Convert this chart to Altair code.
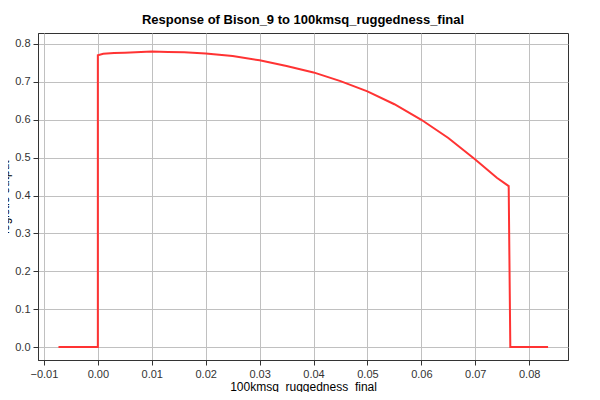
import altair as alt
import pandas as pd

xs = [-0.0073, 0.0, 0.0, 0.001, 0.003, 0.005, 0.008, 0.01, 0.013, 0.016, 0.02, 0.025,
      0.03, 0.035, 0.04, 0.045, 0.05, 0.055, 0.06, 0.065, 0.07, 0.074, 0.0762, 0.0765, 0.0835]
ys = [0.0, 0.0, 0.770, 0.774, 0.776, 0.777, 0.779, 0.780, 0.779, 0.778, 0.775, 0.768,
      0.757, 0.742, 0.725, 0.702, 0.675, 0.641, 0.600, 0.552, 0.495, 0.447, 0.425, 0.0, 0.0]

data = pd.DataFrame({"x": xs, "y": ys, "i": range(len(xs))})

chart = (
    alt.Chart(data)
    .mark_line(color="#ff3333", strokeWidth=2)
    .encode(
        x=alt.X("x:Q", title="100kmsq_ruggedness_final",
                scale=alt.Scale(domain=[-0.0111, 0.0872], nice=False, zero=False),
                axis=alt.Axis(values=[-0.01, 0, 0.01, 0.02, 0.03, 0.04, 0.05, 0.06, 0.07, 0.08],
                              format=".2f", titlePadding=2, labelPadding=3)),
        y=alt.Y("y:Q", title="logistic output",
                scale=alt.Scale(domain=[-0.034, 0.829], nice=False, zero=False),
                axis=alt.Axis(values=[0, 0.1, 0.2, 0.3, 0.4, 0.5, 0.6, 0.7, 0.8],
                              format=".1f", titlePadding=3, labelPadding=3)),
        order="i:Q",
    )
    .properties(
        width=530, height=327,
        autosize=alt.AutoSizeParams(type="none"),
        padding={"left": 30, "top": 25, "right": 24, "bottom": 32},
        title=alt.TitleParams("Response of Bison_9 to 100kmsq_ruggedness_final",
                              fontSize=13, font="Liberation Sans", fontWeight="bold",
                              offset=6),
    )
    .configure_view(stroke="#333333", strokeWidth=1)
    .configure_axis(
        labelFont="Liberation Sans", titleFont="Liberation Sans",
        labelFontSize=11, titleFontSize=12, titleFontWeight="normal",
        labelColor="#333333", titleColor="#000000",
        gridColor="#c0c0c0", domainColor="#333333", tickColor="#333333",
    )
)

chart.save("out.html", embed_options={"renderer": "svg", "actions": False})
